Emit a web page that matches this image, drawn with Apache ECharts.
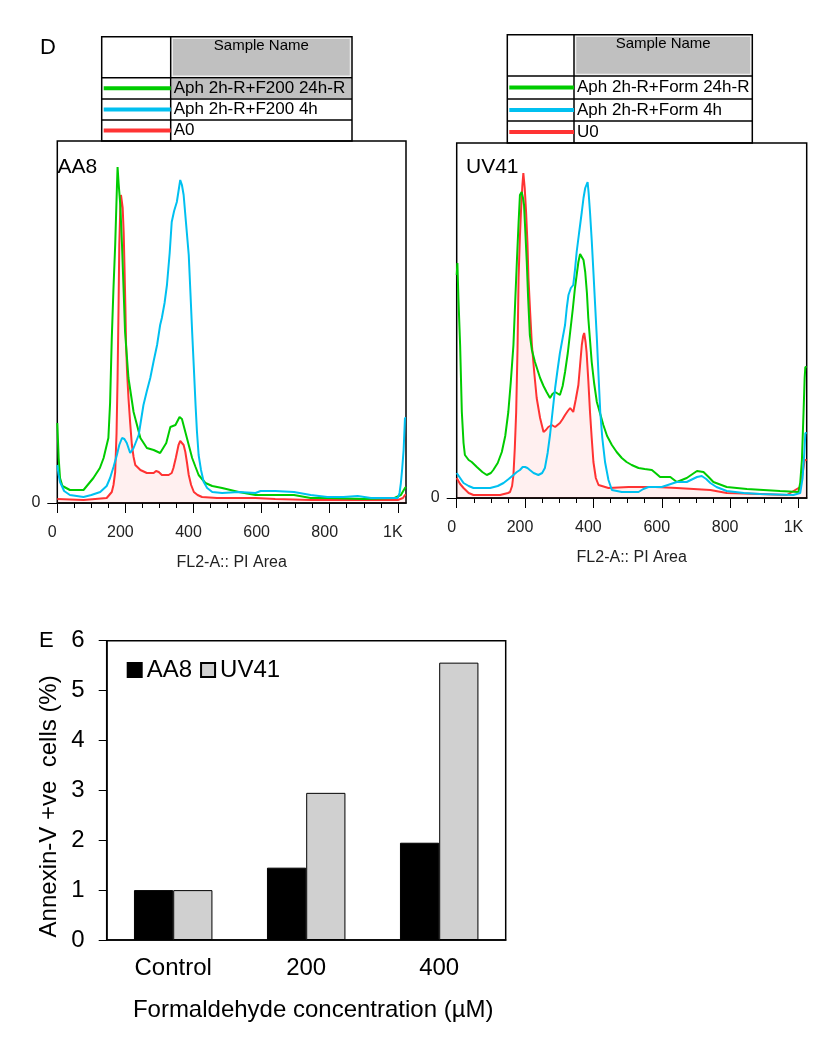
<!DOCTYPE html>
<html>
<head>
<meta charset="utf-8">
<script src="https://cdn.jsdelivr.net/npm/echarts@6/dist/echarts.min.js"></script>
<style>
html, body { margin: 0; padding: 0; background: #fff; }
#main { width: 823px; height: 1050px; }
</style>
</head>
<body>
<div id="main"></div>
<script>
// ---- panel D : DNA histograms, [channel, count] ----
var aa8Names = ['Aph 2h-R+F200 24h-R', 'Aph 2h-R+F200 4h', 'A0'];
var uv41Names = ['Aph 2h-R+Form 24h-R', 'Aph 2h-R+Form 4h', 'U0'];

var aa8Green = [[0,80],[4,45],[8,25],[15,17],[37,13],[77,13],[106,25],[125,35],[136,45],[150,65],[155,100],[160,165],[165,215],[170,258],[175,315],[177,336],[180,320],[185,298],[190,258],[195,210],[199,171],[209,125],[224,91],[244,65],[263,55],[283,53],[302,50],[320,60],[332,76],[347,78],[359,86],[366,84],[376,71],[386,58],[396,45],[406,36],[415,28],[435,20],[455,17],[484,15],[533,11],[582,8],[640,8],[695,8],[744,5],[800,5],[900,4],[990,5],[1009,8],[1021,15],[1024,16]];
var aa8Blue = [[0,38],[4,28],[8,21],[20,12],[37,8],[77,6],[100,8],[126,11],[145,17],[155,25],[165,36],[175,48],[182,58],[190,65],[197,64],[204,60],[214,50],[224,55],[239,68],[253,98],[263,112],[273,125],[283,142],[293,158],[302,178],[307,185],[315,200],[322,218],[330,250],[336,281],[343,292],[351,301],[356,312],[361,323],[366,318],[371,308],[378,280],[386,248],[391,210],[396,171],[401,135],[406,98],[410,72],[415,48],[422,33],[430,21],[440,15],[455,11],[484,10],[533,11],[582,10],[597,12],[640,12],[695,11],[744,8],[793,6],[840,6],[882,7],[921,5],[1000,5],[1005,10],[1009,20],[1013,35],[1017,53],[1021,85],[1024,85]];
var aa8Red = [[0,4],[77,3],[145,5],[160,11],[165,18],[170,31],[174,70],[177,125],[180,200],[182,258],[185,295],[187,308],[190,306],[192,295],[195,270],[197,241],[200,195],[202,158],[205,130],[209,105],[214,80],[219,58],[224,46],[229,38],[244,33],[263,30],[283,30],[290,32],[298,31],[307,28],[327,28],[336,30],[341,35],[348,45],[356,58],[361,62],[366,63],[371,58],[376,51],[381,40],[386,28],[393,18],[401,11],[412,8],[425,6],[469,5],[582,5],[640,4],[744,3],[900,3],[1000,3],[1015,5],[1021,8],[1024,8]];

var uvGreen = [[0,223],[2,235],[5,200],[10,153],[15,86],[20,55],[24,43],[35,38],[44,36],[59,31],[75,26],[88,23],[100,25],[107,28],[120,35],[132,46],[142,62],[151,86],[158,115],[166,153],[171,195],[176,236],[181,275],[185,303],[190,306],[194,300],[197,293],[201,265],[205,236],[209,200],[214,163],[220,148],[229,136],[244,120],[254,112],[263,106],[273,100],[280,104],[288,106],[302,103],[310,112],[317,126],[325,145],[332,166],[340,190],[346,210],[356,236],[361,244],[366,246],[371,238],[376,226],[381,205],[385,180],[390,158],[395,136],[402,115],[410,96],[420,84],[429,73],[440,62],[454,53],[468,46],[483,40],[497,36],[512,33],[532,30],[550,29],[571,28],[585,24],[595,21],[625,21],[644,16],[673,20],[703,27],[722,26],[737,21],[751,16],[790,11],[849,9],[946,7],[1000,6],[1005,15],[1010,38],[1015,88],[1018,120],[1020,131],[1024,131]];
var uvBlue = [[0,25],[10,20],[20,15],[35,12],[49,10],[98,10],[120,12],[137,15],[152,19],[166,23],[176,26],[185,28],[193,31],[200,31],[207,30],[214,28],[225,25],[239,23],[250,25],[258,30],[266,45],[273,63],[280,85],[288,110],[295,128],[302,145],[310,160],[317,173],[322,190],[327,203],[334,210],[341,213],[346,228],[351,246],[358,265],[366,286],[371,300],[376,310],[383,316],[386,305],[390,286],[395,258],[400,226],[405,193],[410,160],[415,122],[420,86],[426,60],[434,36],[444,18],[454,8],[483,6],[532,6],[546,9],[561,11],[600,11],[644,16],[673,16],[703,21],[717,22],[730,19],[742,15],[760,11],[790,7],[840,5],[888,4],[985,3],[1005,5],[1012,20],[1017,45],[1020,65],[1024,65]];
var uvRed = [[0,20],[10,14],[20,10],[35,5],[49,3],[127,3],[150,5],[156,6],[162,12],[166,23],[170,50],[174,86],[178,150],[181,220],[185,262],[188,286],[192,312],[195,325],[199,310],[203,286],[207,255],[210,220],[215,185],[220,153],[227,125],[234,100],[244,80],[254,66],[261,68],[268,71],[278,73],[288,71],[295,73],[302,75],[310,79],[317,83],[325,87],[332,90],[337,88],[341,86],[348,98],[356,113],[361,133],[366,153],[370,162],[373,165],[377,156],[380,146],[385,118],[390,86],[395,60],[400,36],[407,20],[415,13],[444,10],[503,11],[581,11],[644,10],[742,8],[790,5],[888,4],[966,3],[1005,11],[1012,25],[1018,38],[1024,38]];

var majorTicks = [0, 200, 400, 600, 800, 1000];
var minorTicks = [50, 100, 150, 250, 300, 350, 450, 500, 550, 650, 700, 750, 850, 900, 950];

// ---- panel E : Annexin-V bars ----
var concCategories = ['Control', '200', '400'];
var annexinAA8 = [1.0, 1.45, 1.95];
var annexinUV41 = [1.0, 2.95, 5.56];

var FONT = 'Liberation Sans, Arial, sans-serif';
var lineColors = ['#00cc00', '#00c0f0', '#ff3333'];

var myChart = echarts.init(document.getElementById('main'));

function histX(g) {
	return [{
		type: 'value', gridIndex: g, position: 'bottom', min: 0, max: 1024,
		axisLine: { show: true, lineStyle: { color: '#000', width: 1.5 } },
		axisTick: { show: true, length: 10, customValues: majorTicks, lineStyle: { color: '#000' } },
		axisLabel: {
			customValues: majorTicks, margin: 22, fontSize: 16, color: '#222', fontFamily: FONT,
			padding: [0, 10, 0, 0],
			formatter: function (v) { return v === 1000 ? '1K' : String(v); }
		},
		splitLine: { show: false },
		name: 'FL2-A:: PI Area', nameLocation: 'middle', nameGap: 52,
		nameTextStyle: { fontSize: 16, color: '#222', fontFamily: FONT }
	}, {
		// minor ticks only
		type: 'value', gridIndex: g, position: 'bottom', offset: 0, min: 0, max: 1024,
		axisLine: { show: false },
		axisTick: { show: true, length: 5, customValues: minorTicks, lineStyle: { color: '#000' } },
		axisLabel: { show: false },
		splitLine: { show: false }
	}];
}

function histY(g, top) {
	return {
		type: 'value', gridIndex: g, min: 0, max: top,
		axisLine: { show: false },
		axisTick: { show: true, length: 10, customValues: [0], lineStyle: { color: '#000' } },
		axisLabel: { customValues: [0], margin: 17, fontSize: 16, color: '#222', fontFamily: FONT, padding: [0, 0, 12, 0] },
		splitLine: { show: false }
	};
}

function histSeries(xi, yi, names, green, blue, red) {
	return [{
		name: names[2], type: 'line', xAxisIndex: xi, yAxisIndex: yi, data: red,
		showSymbol: false, lineStyle: { color: lineColors[2], width: 2 },
		itemStyle: { color: lineColors[2] }, areaStyle: { color: 'rgba(255,60,60,0.11)' }
	}, {
		name: names[0], type: 'line', xAxisIndex: xi, yAxisIndex: yi, data: green,
		showSymbol: false, lineStyle: { color: lineColors[0], width: 2 }, itemStyle: { color: lineColors[0] }
	}, {
		name: names[1], type: 'line', xAxisIndex: xi, yAxisIndex: yi, data: blue,
		showSymbol: false, lineStyle: { color: lineColors[1], width: 2 }, itemStyle: { color: lineColors[1] }
	}];
}

function txt(x, y, s, size, align) {
	return {
		type: 'text', x: x, y: y, z: 100,
		style: { text: s, fontSize: size, fontFamily: FONT, fill: '#000',
			align: align || 'left', textAlign: align || 'left',
			verticalAlign: 'middle', textVerticalAlign: 'middle' }
	};
}

// legend table above each histogram
function sampleTable(x0, x1, x2, ys, names, highlight) {
	var els = [];
	els.push({ type: 'rect', shape: { x: x1 + 1.5, y: ys[0] + 1.5, width: x2 - x1 - 3, height: ys[1] - ys[0] - 3 },
		style: { fill: '#c0c0c0', stroke: '#eeeeee', lineWidth: 1.5 } });
	if (highlight) {
		els.push({ type: 'rect', shape: { x: x1 + 1, y: ys[1] + 1, width: x2 - x1 - 2, height: ys[2] - ys[1] - 2 },
			style: { fill: '#c0c0c0' } });
	}
	els.push({ type: 'rect', shape: { x: x0, y: ys[0], width: x2 - x0, height: ys[4] - ys[0] },
		style: { fill: 'none', stroke: '#000', lineWidth: 1.5 } });
	els.push({ type: 'line', shape: { x1: x1, y1: ys[0], x2: x1, y2: ys[4] }, style: { stroke: '#000', lineWidth: 1.5 } });
	for (var i = 1; i <= 3; i++) {
		els.push({ type: 'line', shape: { x1: x0, y1: ys[i], x2: x2, y2: ys[i] }, style: { stroke: '#000', lineWidth: 1.5 } });
	}
	els.push(txt((x1 + x2) / 2, ys[0] + 9, 'Sample Name', 15, 'center'));
	for (var r = 0; r < 3; r++) {
		var cy = (ys[r + 1] + ys[r + 2]) / 2;
		els.push({ type: 'line', shape: { x1: x0 + 2, y1: cy, x2: x1, y2: cy },
			style: { stroke: lineColors[r], lineWidth: 4 } });
		els.push(txt(x1 + 3, cy, names[r], 17, 'left'));
	}
	return els;
}

var graphics = []
	.concat(sampleTable(101.7, 170.7, 352, [36.7, 77.7, 99, 120, 141], aa8Names, true))
	.concat(sampleTable(507.3, 574, 752.3, [34.7, 76, 99, 121, 143], uv41Names, false))
	.concat([
		txt(40, 48, 'D', 22), txt(57.5, 167, 'AA8', 21), txt(466, 167, 'UV41', 21),
		txt(39, 641, 'E', 22)
	]);

var option = {
	animation: false,
	backgroundColor: '#fff',
	grid: [
		{ left: 57.3, right: 417, top: 141, bottom: 547, show: true, borderColor: '#000', borderWidth: 1.5, backgroundColor: 'transparent' },
		{ left: 456.7, right: 16.3, top: 143, bottom: 552, show: true, borderColor: '#000', borderWidth: 1.5, backgroundColor: 'transparent' },
		{ left: 106.7, right: 317.3, top: 640.7, bottom: 110, show: true, borderColor: '#000', borderWidth: 1.5, backgroundColor: 'transparent' }
	],
	legend: {
		data: ['AA8', 'UV41'], left: 126.7, top: 658, padding: 0,
		icon: 'rect', itemWidth: 14, itemHeight: 14, itemGap: 8,
		textStyle: { fontSize: 24, color: '#000', fontFamily: FONT }
	},
	xAxis: histX(0).concat(histX(1)).concat([{
		type: 'category', gridIndex: 2, data: concCategories,
		axisLine: { lineStyle: { color: '#000', width: 1.5 } },
		axisTick: { length: 8, lineStyle: { color: '#000' } },
		axisLabel: { fontSize: 24, color: '#000', margin: 16, fontFamily: FONT },
		name: 'Formaldehyde concentration (µM)', nameLocation: 'middle', nameGap: 58,
		nameTextStyle: { fontSize: 24, color: '#000', fontFamily: FONT, padding: [0, 0, 0, 14] }
	}]),
	yAxis: [histY(0, 362), histY(1, 355), {
		type: 'value', gridIndex: 2, min: 0, max: 6, interval: 1,
		axisLine: { show: true, lineStyle: { color: '#000', width: 1.5 } },
		axisTick: { show: true, length: 8, lineStyle: { color: '#000' } },
		axisLabel: { fontSize: 24, color: '#000', margin: 22, fontFamily: FONT },
		splitLine: { show: false },
		name: 'Annexin-V +ve  cells (%)', nameLocation: 'middle', nameGap: 45,
		nameTextStyle: { fontSize: 24, color: '#000', fontFamily: FONT, padding: [0, 32, 0, 0] }
	}],
	graphic: graphics,
	series: histSeries(0, 0, aa8Names, aa8Green, aa8Blue, aa8Red)
		.concat(histSeries(2, 1, uv41Names, uvGreen, uvBlue, uvRed))
		.concat([{
			name: 'AA8', type: 'bar', xAxisIndex: 4, yAxisIndex: 2, data: annexinAA8,
			barGap: '0%', barCategoryGap: '41%',
			itemStyle: { color: '#000', borderColor: '#000', borderWidth: 1 }
		}, {
			name: 'UV41', type: 'bar', xAxisIndex: 4, yAxisIndex: 2, data: annexinUV41,
			barGap: '0%', barCategoryGap: '41%',
			itemStyle: { color: '#d0d0d0', borderColor: '#000', borderWidth: 1 }
		}])
};

myChart.setOption(option);
</script>
</body>
</html>
